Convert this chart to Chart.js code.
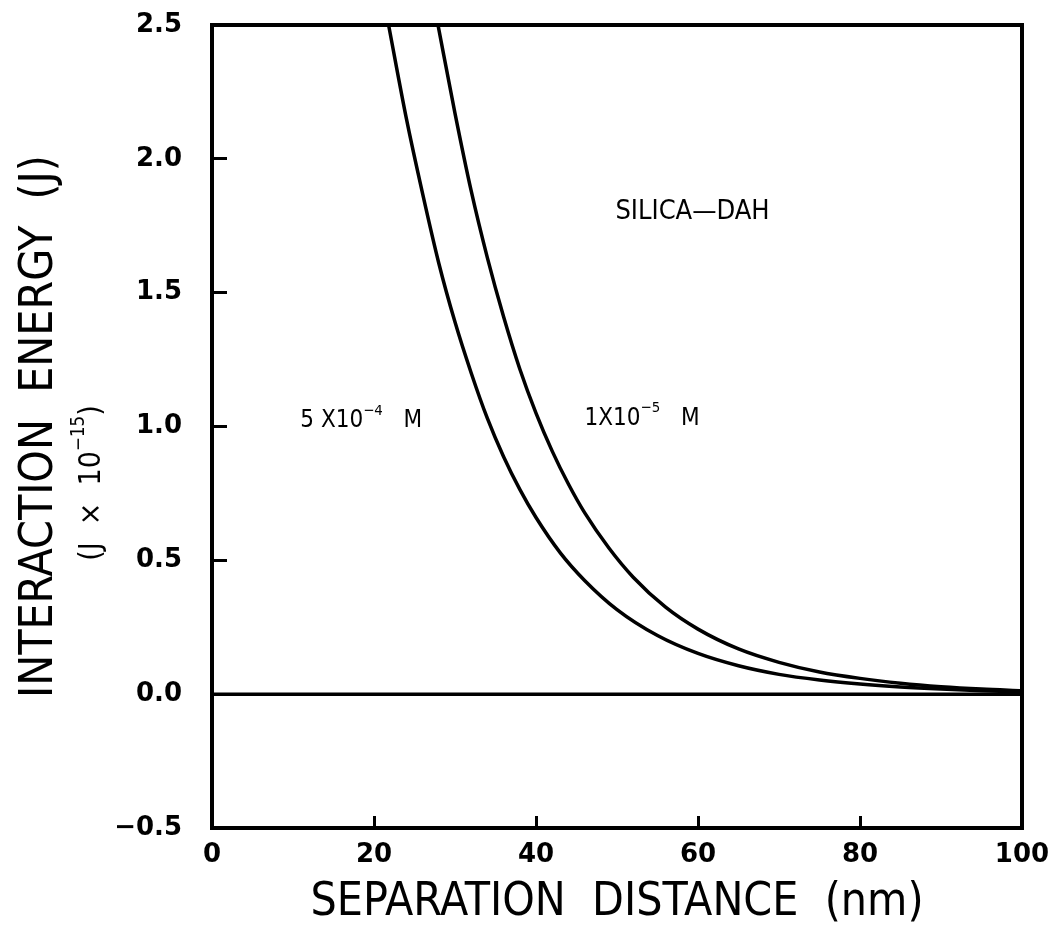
<!DOCTYPE html>
<html>
<head>
<meta charset="utf-8">
<script src="https://cdn.jsdelivr.net/npm/chart.js@4.4.0/dist/chart.umd.min.js"></script>
<style>
  body { margin: 0; background: #fff; }
  canvas { display: block; }
</style>
</head>
<body>
<canvas id="energy" width="1057" height="931"></canvas>
<script>
// curve for 5x10^-4 M
const distA = [21.8, 24, 26, 28, 30, 32, 34, 36, 38, 40, 43, 46, 50, 55, 60, 65, 70, 75, 80, 85, 90, 95, 100];
const energyA = [2.5, 2.15, 1.87, 1.61, 1.39, 1.2, 1.03, 0.887, 0.765, 0.66, 0.528, 0.425, 0.316, 0.219, 0.152, 0.106, 0.074, 0.053, 0.038, 0.027, 0.019, 0.013, 0.009];
// curve for 1x10^-5 M
const distB = [27.9, 30, 32, 34, 36, 38, 40, 42, 44, 46, 49, 52, 56, 60, 65, 70, 75, 80, 85, 90, 95, 100];
const energyB = [2.5, 2.17, 1.88, 1.63, 1.41, 1.215, 1.05, 0.908, 0.785, 0.678, 0.546, 0.437, 0.325, 0.243, 0.169, 0.119, 0.083, 0.059, 0.041, 0.028, 0.019, 0.013];
// zero reference line
const zeroDist = [0, 100];
const zeroEnergy = [0, 0];

const xTicks = [0, 20, 40, 60, 80, 100];
const yTicks = [-0.5, 0.0, 0.5, 1.0, 1.5, 2.0, 2.5];

const toPoints = (xs, ys) => xs.map((x, i) => ({x: x, y: ys[i]}));

const narrow = "'Liberation Sans Narrow', 'DejaVu Sans Condensed', 'Liberation Sans', sans-serif";

function drawParts(ctx, x, y, parts, size) {
  let cx = x;
  parts.forEach(p => {
    const s = p.sup ? size * 0.62 : size;
    ctx.font = s + 'px ' + narrow;
    ctx.fillText(p.t, cx, p.sup ? y - size * 0.42 : y);
    cx += ctx.measureText(p.t).width;
  });
}

function partsWidth(ctx, parts, size) {
  let w = 0;
  parts.forEach(p => {
    ctx.font = (p.sup ? size * 0.62 : size) + 'px ' + narrow;
    w += ctx.measureText(p.t).width;
  });
  return w;
}

const extras = {
  id: 'extras',
  afterDraw(chart) {
    const ctx = chart.ctx;
    const a = chart.chartArea;
    const xs = chart.scales.x;
    const ys = chart.scales.y;
    ctx.save();
    ctx.strokeStyle = '#000';
    ctx.lineWidth = 4;
    ctx.strokeRect(a.left, a.top, a.right - a.left, a.bottom - a.top);

    ctx.fillStyle = '#000';
    ctx.textBaseline = 'middle';
    ctx.textAlign = 'left';

    ctx.font = '27px ' + narrow;
    ctx.fillText('SILICA\u2014DAH', xs.getPixelForValue(49.8), ys.getPixelForValue(1.80));

    drawParts(ctx, xs.getPixelForValue(10.9), ys.getPixelForValue(1.02),
      [{t: '5 X10'}, {t: '\u22124', sup: true}, {t: '   M'}], 24);
    drawParts(ctx, xs.getPixelForValue(46.0), ys.getPixelForValue(1.03),
      [{t: '1X10'}, {t: '\u22125', sup: true}, {t: '   M'}], 24);

    // second line of the y title
    const sub = [{t: '(J  \u00d7  10'}, {t: '\u221215', sup: true}, {t: ')'}];
    ctx.translate(92, 483);
    ctx.rotate(-Math.PI / 2);
    drawParts(ctx, -partsWidth(ctx, sub, 30) / 2, 0, sub, 30);
    ctx.restore();
  }
};

const lineStyle = {
  borderColor: '#000',
  borderWidth: 3.5,
  pointRadius: 0,
  fill: false,
  cubicInterpolationMode: 'monotone'
};

new Chart(document.getElementById('energy'), {
  type: 'line',
  data: {
    datasets: [
      Object.assign({label: '5x10-4 M', data: toPoints(distA, energyA)}, lineStyle),
      Object.assign({label: '1x10-5 M', data: toPoints(distB, energyB)}, lineStyle),
      Object.assign({label: 'zero', data: toPoints(zeroDist, zeroEnergy)}, lineStyle)
    ]
  },
  options: {
    responsive: false,
    animation: false,
    layout: {padding: {left: 17, right: 35, top: 25, bottom: 0}},
    plugins: {
      legend: {display: false},
      tooltip: {enabled: false}
    },
    scales: {
      x: {
        type: 'linear',
        min: 0,
        max: 100,
        afterBuildTicks: s => { s.ticks = xTicks.map(v => ({value: v})); },
        afterFit: s => { s.height = 103; s.paddingLeft = 0; s.paddingRight = 0; },
        border: {display: true, color: '#000', width: 4},
        grid: {drawOnChartArea: false, drawTicks: true, tickLength: -12, tickWidth: 3, color: '#000'},
        ticks: {
          color: '#000',
          padding: 24,
          maxRotation: 0,
          font: {family: 'DejaVu Sans', size: 26, weight: 'bold'}
        },
        title: {
          display: true,
          text: 'SEPARATION  DISTANCE  (nm)',
          color: '#000',
          padding: {top: 0, bottom: 5},
          font: {family: narrow, size: 46, lineHeight: 1}
        }
      },
      y: {
        type: 'linear',
        min: -0.5,
        max: 2.5,
        afterBuildTicks: s => { s.ticks = yTicks.map(v => ({value: v})); },
        afterFit: s => { s.width = 195; s.paddingTop = 0; s.paddingBottom = 0; },
        border: {display: true, color: '#000', width: 4},
        grid: {drawOnChartArea: false, drawTicks: true, tickLength: -15, tickWidth: 3, color: '#000'},
        ticks: {
          color: '#000',
          padding: 45,
          font: {family: 'DejaVu Sans', size: 26, weight: 'bold'},
          callback: v => v.toFixed(1).replace('-', '\u2212')
        },
        title: {
          display: true,
          text: 'INTERACTION  ENERGY  (J)',
          color: '#000',
          padding: {top: 0, bottom: 0},
          font: {family: narrow, size: 46, lineHeight: 1}
        }
      }
    }
  },
  plugins: [extras]
});
</script>
</body>
</html>
